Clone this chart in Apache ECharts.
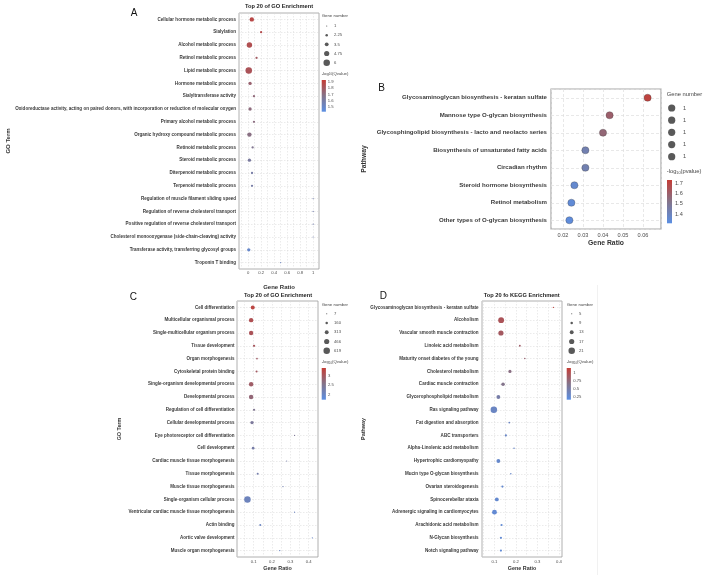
<!DOCTYPE html>
<html>
<head>
<meta charset="utf-8">
<title>GO / KEGG enrichment</title>
<script src="https://cdn.jsdelivr.net/npm/echarts@6.0.0/dist/echarts.min.js"></script>
<style>
html, body { margin: 0; padding: 0; background: #fff; }
#main { width: 708px; height: 575px; }
</style>
</head>
<body>
<div id="main"></div>
<script>
// ---- panel A : GO, top 20 ----
var termsA = [
    'Cellular hormone metabolic process', 'Sialylation', 'Alcohol metabolic process',
    'Retinol metabolic process', 'Lipid metabolic process', 'Hormone metabolic process',
    'Sialyltransferase activity',
    'Oxidoreductase activity, acting on paired donors, with incorporation or reduction of molecular oxygen',
    'Primary alcohol metabolic process', 'Organic hydroxy compound metabolic process',
    'Retinoid metabolic process', 'Steroid metabolic process', 'Diterpenoid metabolic process',
    'Terpenoid metabolic process', 'Regulation of muscle filament sliding speed',
    'Regulation of reverse cholesterol transport', 'Positive regulation of reverse cholesterol transport',
    'Cholesterol monooxygenase (side-chain-cleaving) activity',
    'Transferase activity, transferring glycosyl groups', 'Troponin T binding'
];
var ratioA = [0.057, 0.2, 0.02, 0.13, 0.01, 0.03, 0.09, 0.03, 0.09, 0.02, 0.07, 0.02, 0.06, 0.06, 1, 1, 1, 1, 0.01, 0.5];
var countA = [4, 2, 5, 2, 6, 3, 2, 3, 2, 4, 2, 3, 2, 2, 1, 1, 1, 1, 3, 1];
var qA = [1.88, 1.86, 1.85, 1.8, 1.83, 1.76, 1.73, 1.72, 1.71, 1.7, 1.66, 1.62, 1.6, 1.6, 1.58, 1.58, 1.58, 1.58, 1.5, 1.52];
var xTicksA = [0, 0.2, 0.4, 0.6, 0.8, 1];
var sizeBreaksA = [1, 2.25, 3.5, 4.75, 6];
var colorTicksA = [1.5, 1.6, 1.7, 1.8, 1.9];

// ---- panel B : KEGG pathways ----
var pathB = [
    'Glycosaminoglycan biosynthesis - keratan sulfate', 'Mannose type O-glycan biosynthesis',
    'Glycosphingolipid biosynthesis - lacto and neolacto series', 'Biosynthesis of unsaturated fatty acids',
    'Circadian rhythm', 'Steroid hormone biosynthesis', 'Retinol metabolism', 'Other types of O-glycan biosynthesis'
];
var ratioB = [0.0623, 0.0433, 0.04, 0.0312, 0.0312, 0.0257, 0.0242, 0.0232];
var countB = [1, 1, 1, 1, 1, 1, 1, 1];
var pB = [1.71, 1.6, 1.57, 1.43, 1.43, 1.36, 1.34, 1.33];
var xTicksB = [0.02, 0.03, 0.04, 0.05, 0.06];
var sizeBreaksB = [1, 1, 1, 1, 1];
var colorTicksB = [1.4, 1.5, 1.6, 1.7];

// ---- panel C : GO, top 20 ----
var termsC = [
    'Cell differentiation', 'Multicellular organismal process', 'Single-multicellular organism process',
    'Tissue development', 'Organ morphogenesis', 'Cytoskeletal protein binding',
    'Single-organism developmental process', 'Developmental process', 'Regulation of cell differentiation',
    'Cellular developmental process', 'Eye photoreceptor cell differentiation', 'Cell development',
    'Cardiac muscle tissue morphogenesis', 'Tissue morphogenesis', 'Muscle tissue morphogenesis',
    'Single-organism cellular process', 'Ventricular cardiac muscle tissue morphogenesis', 'Actin binding',
    'Aortic valve development', 'Muscle organ morphogenesis'
];
var ratioC = [0.095, 0.086, 0.086, 0.102, 0.118, 0.116, 0.086, 0.086, 0.102, 0.091, 0.323, 0.097, 0.28, 0.122, 0.26, 0.066, 0.323, 0.136, 0.42, 0.242];
var countC = [330, 370, 370, 135, 65, 100, 380, 385, 130, 255, 7, 185, 8, 100, 15, 619, 7, 95, 7, 30];
var qC = [3.25, 3.1, 3.05, 3.0, 2.9, 2.95, 2.9, 2.75, 2.5, 2.4, 2.45, 2.3, 2.3, 2.25, 2.2, 2.1, 2.1, 2.05, 2.0, 2.0];
var xTicksC = [0.1, 0.2, 0.3, 0.4];
var sizeBreaksC = [7, 160, 313, 466, 619];
var colorTicksC = [2, 2.5, 3];

// ---- panel D : KEGG, top 20 ----
var pathD = [
    'Glycosaminoglycan biosynthesis - keratan sulfate', 'Alcoholism', 'Vascular smooth muscle contraction',
    'Linoleic acid metabolism', 'Maturity onset diabetes of the young', 'Cholesterol metabolism',
    'Cardiac muscle contraction', 'Glycerophospholipid metabolism', 'Ras signaling pathway',
    'Fat digestion and absorption', 'ABC transporters', 'Alpha-Linolenic acid metabolism',
    'Hypertrophic cardiomyopathy', 'Mucin type O-glycan biosynthesis', 'Ovarian steroidogenesis',
    'Spinocerebellar ataxia', 'Adrenergic signaling in cardiomyocytes', 'Arachidonic acid metabolism',
    'N-Glycan biosynthesis', 'Notch signaling pathway'
];
var ratioD = [0.374, 0.131, 0.13, 0.218, 0.241, 0.172, 0.14, 0.118, 0.097, 0.169, 0.153, 0.191, 0.118, 0.176, 0.137, 0.111, 0.1, 0.133, 0.13, 0.13];
var countD = [5, 19, 17, 7, 6, 11, 12, 13, 21, 7, 8, 6, 13, 6, 8, 13, 16, 8, 8, 8];
var qD = [1.1, 0.95, 0.9, 0.85, 0.8, 0.7, 0.65, 0.5, 0.35, 0.36, 0.33, 0.33, 0.3, 0.31, 0.28, 0.28, 0.26, 0.25, 0.25, 0.25];
var xTicksD = [0.1, 0.2, 0.3, 0.4];
var sizeBreaksD = [5, 9, 13, 17, 21];
var colorTicksD = [0.25, 0.5, 0.75, 1];

var FONT = "'Liberation Sans', Arial, sans-serif";
var GRAD = ['#5b8fe3', '#84748a', '#c53d36'];

// diameter grows linearly with gene number, like the legend keys
function sizeScale(vmin, vmax, dmin, dmax) {
    return function (v) {
        if (vmax === vmin) return (dmin + dmax) / 2;
        return dmin + (dmax - dmin) * (v - vmin) / (vmax - vmin);
    };
}

var panels = [
    {
        terms: termsA, ratio: ratioA, count: countA, col: qA, xTicks: xTicksA, sizeBreaks: sizeBreaksA, colorTicks: colorTicksA,
        size: sizeScale(1, 6, 1.2, 6.5), yName: 'GO Term',
        grid: {left: 239, top: 13, width: 80, height: 256}, xMin: -0.14, xMax: 1.09, xStep: 0.1,
        labelSize: 4.55, tickSize: 4.2, nameSize: 6, labelMargin: 3, tickMargin: 2, xNameGap: 15, yNameGap: 228,
        border: {color: '#9c9c9c', width: 0.8}, split: {color: '#d6d6d6', width: 0.5, type: [1.5, 1.5]},
        legend: {cx: 326.7, top: 21.4, h: 45.9, labelX: 334, font: 4.2},
        cbar: {x: 321.7, y: 80, w: 4.2, h: 31.7, min: 1.43, max: 1.93, step: 0.1, labelX: 327.7, font: 4.2}
    },
    {
        terms: pathB, ratio: ratioB, count: countB, col: pB, xTicks: xTicksB, sizeBreaks: sizeBreaksB, colorTicks: colorTicksB,
        size: sizeScale(1, 1, 7.2, 7.2), yName: 'Pathway', outline: true,
        grid: {left: 551, top: 89, width: 110, height: 140}, xMin: 0.014, xMax: 0.069, xStep: 0.01,
        labelSize: 6.1, tickSize: 5.6, nameSize: 6.8, labelMargin: 4, tickMargin: 3, xNameGap: 11, yNameGap: 183,
        border: {color: '#a8a8a8', width: 1.2}, split: {color: '#dedede', width: 0.7, type: [3, 2]},
        legend: {cx: 671.7, top: 101.9, h: 60.9, labelX: 683, font: 5.6},
        cbar: {x: 667, y: 180, w: 5, h: 43.3, min: 1.31, max: 1.732, step: 0.1, labelX: 675, font: 5.6}
    },
    {
        terms: termsC, ratio: ratioC, count: countC, col: qC, xTicks: xTicksC, sizeBreaks: sizeBreaksC, colorTicks: colorTicksC,
        size: sizeScale(7, 619, 1.2, 6.5), yName: 'GO Term',
        grid: {left: 237, top: 301, width: 81, height: 256}, xMin: 0.009, xMax: 0.451, xStep: 0.05,
        labelSize: 4.5, tickSize: 4.2, nameSize: 5.4, labelMargin: 2.5, tickMargin: 3, xNameGap: 9, yNameGap: 115,
        border: {color: '#9c9c9c', width: 0.8}, split: {color: '#d6d6d6', width: 0.5, type: [1.5, 1.5]},
        legend: {cx: 326.7, top: 309.1, h: 46.25, labelX: 334, font: 4.2},
        cbar: {x: 321.7, y: 368, w: 4.2, h: 31.7, min: 1.74, max: 3.38, step: 0.5, labelX: 328, font: 4.2}
    },
    {
        terms: pathD, ratio: ratioD, count: countD, col: qD, xTicks: xTicksD, sizeBreaks: sizeBreaksD, colorTicks: colorTicksD,
        size: sizeScale(5, 21, 1.2, 6.5), yName: 'Pathway',
        grid: {left: 482, top: 301, width: 80, height: 256}, xMin: 0.042, xMax: 0.414, xStep: 0.05,
        labelSize: 4.55, tickSize: 4.2, nameSize: 5.4, labelMargin: 3.5, tickMargin: 3, xNameGap: 9, yNameGap: 116,
        border: {color: '#9c9c9c', width: 0.8}, split: {color: '#d6d6d6', width: 0.5, type: [1.5, 1.5]},
        legend: {cx: 571.7, top: 309.1, h: 46.25, labelX: 579, font: 4.2},
        cbar: {x: 566.7, y: 368, w: 4.2, h: 31.7, min: 0.17, max: 1.145, step: 0.25, labelX: 573.3, font: 4.2}
    }
];

function near(list, v) {
    for (var i = 0; i < list.length; i++) {
        if (Math.abs(list[i] - v) < 1e-7) return list[i];
    }
    return null;
}

var grids = [], xAxes = [], yAxes = [], series = [], visualMaps = [], graphics = [];

panels.forEach(function (p) {
    // main plot
    var gi = grids.length;
    grids.push({
        left: p.grid.left, top: p.grid.top, width: p.grid.width, height: p.grid.height,
        show: true, backgroundColor: '#fff', borderColor: p.border.color, borderWidth: p.border.width
    });
    xAxes.push({
        type: 'value', gridIndex: gi, min: p.xMin, max: p.xMax,
        minInterval: p.xStep, maxInterval: p.xStep, splitNumber: 12,
        axisLine: {show: false}, axisTick: {show: false},
        splitLine: {show: true, lineStyle: p.split},
        axisLabel: {
            fontSize: p.tickSize, color: '#4d4d4d', fontFamily: FONT, margin: p.tickMargin,
            formatter: function (v) { var t = near(p.xTicks, v); return t === null ? '' : String(t); }
        },
        name: 'Gene Ratio', nameLocation: 'middle', nameGap: p.xNameGap,
        nameTextStyle: {fontSize: p.nameSize, fontWeight: 'bold', color: '#333', fontFamily: FONT}
    });
    yAxes.push({
        type: 'value', gridIndex: gi, inverse: true, min: -0.5, max: p.terms.length - 0.5,
        minInterval: 1, maxInterval: 1, splitNumber: p.terms.length,
        axisLine: {show: false}, axisTick: {show: false},
        splitLine: {show: true, lineStyle: p.split},
        axisLabel: {
            fontSize: p.labelSize, fontWeight: 'bold', color: '#3a3a3a', fontFamily: FONT, margin: p.labelMargin,
            formatter: function (v) { return Math.abs(v - Math.round(v)) < 1e-7 ? (p.terms[Math.round(v)] || '') : ''; }
        },
        name: p.yName, nameLocation: 'middle', nameGap: p.yNameGap, nameRotate: 90,
        nameTextStyle: {fontSize: p.nameSize, fontWeight: 'bold', color: '#333', fontFamily: FONT}
    });
    series.push({
        type: 'scatter', xAxisIndex: gi, yAxisIndex: gi, silent: true,
        data: p.terms.map(function (t, k) { return [p.ratio[k], k, p.count[k], p.col[k]]; }),
        symbolSize: function (val) { return p.size(val[2]); },
        itemStyle: p.outline ? {opacity: 1, borderColor: 'rgba(40,40,40,0.45)', borderWidth: 0.6} : {opacity: 1}
    });
    visualMaps.push({
        type: 'continuous', show: false, seriesIndex: series.length - 1, dimension: 3,
        min: p.cbar.min, max: p.cbar.max, inRange: {color: GRAD}
    });

    // gene number key
    var L = p.legend, lg = grids.length;
    grids.push({left: L.cx - 4, top: L.top, width: 8, height: L.h});
    xAxes.push({type: 'value', gridIndex: lg, min: 0, max: 1, show: false});
    yAxes.push({
        type: 'value', gridIndex: lg, inverse: true, position: 'right', min: -0.5, max: 4.5,
        minInterval: 1, maxInterval: 1, splitNumber: 5,
        axisLine: {show: false}, axisTick: {show: false}, splitLine: {show: false},
        axisLabel: {
            fontSize: L.font, color: '#4d4d4d', fontFamily: FONT, margin: L.labelX - (L.cx + 4),
            formatter: function (v) { return Math.abs(v - Math.round(v)) < 1e-7 && p.sizeBreaks[Math.round(v)] !== undefined ? String(p.sizeBreaks[Math.round(v)]) : ''; }
        }
    });
    series.push({
        type: 'scatter', xAxisIndex: lg, yAxisIndex: lg, silent: true,
        data: p.sizeBreaks.map(function (b, k) { return [0.5, k, b]; }),
        symbolSize: function (val) { return p.size(val[2]); },
        itemStyle: {color: '#595959', opacity: 1}
    });

    // colour bar and its scale
    var C = p.cbar, cg = grids.length;
    grids.push({left: C.x, top: C.y, width: C.w, height: C.h});
    xAxes.push({type: 'value', gridIndex: cg, min: 0, max: 1, show: false});
    yAxes.push({
        type: 'value', gridIndex: cg, position: 'right', min: C.min, max: C.max,
        minInterval: C.step, maxInterval: C.step, splitNumber: 5,
        axisLine: {show: false}, axisTick: {show: false}, splitLine: {show: false},
        axisLabel: {
            fontSize: C.font, color: '#4d4d4d', fontFamily: FONT, margin: C.labelX - (C.x + C.w),
            formatter: function (v) { var t = near(p.colorTicks, v); return t === null ? '' : String(t); }
        }
    });
    graphics.push({
        type: 'rect', z: -1, silent: true,
        shape: {x: C.x, y: C.y, width: C.w, height: C.h},
        style: {
            fill: {
                type: 'linear', x: 0, y: 1, x2: 0, y2: 0,
                colorStops: [{offset: 0, color: GRAD[0]}, {offset: 0.5, color: GRAD[1]}, {offset: 1, color: GRAD[2]}]
            }
        }
    });
});

function txt(x, y, s, size, opts) {
    opts = opts || {};
    return {
        type: 'text', x: x, y: y, silent: true,
        style: {
            text: s, fontSize: size, fontFamily: FONT, fontWeight: opts.bold ? 'bold' : 'normal',
            fill: opts.color || '#333', align: opts.align || 'left', verticalAlign: 'middle',
            rich: opts.rich
        }
    };
}
var sub = function (size) { return {s: {fontSize: size * 0.65, verticalAlign: 'bottom', fontFamily: FONT, fill: '#444'}}; };

// panel letters
graphics.push(txt(134, 13, 'A', 10, {align: 'center', color: '#111'}));
graphics.push(txt(381.7, 88, 'B', 10, {align: 'center', color: '#111'}));
graphics.push(txt(133.3, 297, 'C', 10, {align: 'center', color: '#111'}));
graphics.push(txt(383.3, 296, 'D', 10, {align: 'center', color: '#111'}));
// panel titles
graphics.push(txt(279, 6.7, 'Top 20 of GO Enrichment', 5.7, {align: 'center', bold: true, color: '#222'}));
graphics.push(txt(278, 295, 'Top 20 of GO Enrichment', 5.7, {align: 'center', bold: true, color: '#222'}));
graphics.push(txt(521.7, 295, 'Top 20 fo KEGG Enrichment', 5.7, {align: 'center', bold: true, color: '#222'}));
// legend titles
graphics.push(txt(321.7, 16.3, 'Gene number', 4.3, {color: '#444'}));
graphics.push(txt(321.7, 74, '-log{s|10}(Qvalue)', 4.3, {color: '#444', rich: sub(4.3)}));
graphics.push(txt(666.7, 94, 'Gene number', 5.8, {color: '#444'}));
graphics.push(txt(666.7, 171.7, '-log{s|10}(pvalue)', 5.8, {color: '#444', rich: sub(5.8)}));
graphics.push(txt(321.7, 304.7, 'Gene number', 4.3, {color: '#444'}));
graphics.push(txt(321.7, 362.3, '-log{s|10}(Qvalue)', 4.3, {color: '#444', rich: sub(4.3)}));
graphics.push(txt(566.7, 304.7, 'Gene number', 4.3, {color: '#444'}));
graphics.push(txt(566.7, 362.3, '-log{s|10}(Qvalue)', 4.3, {color: '#444', rich: sub(4.3)}));
// faint edge of the D figure
graphics.push({type: 'line', silent: true, shape: {x1: 597.5, y1: 285, x2: 597.5, y2: 575}, style: {stroke: '#ededed', lineWidth: 0.8}});

var myChart = echarts.init(document.getElementById('main'));
myChart.setOption({
    backgroundColor: '#fff',
    animation: false,
    grid: grids,
    xAxis: xAxes,
    yAxis: yAxes,
    visualMap: visualMaps,
    series: series,
    graphic: {elements: graphics}
});
</script>
</body>
</html>
